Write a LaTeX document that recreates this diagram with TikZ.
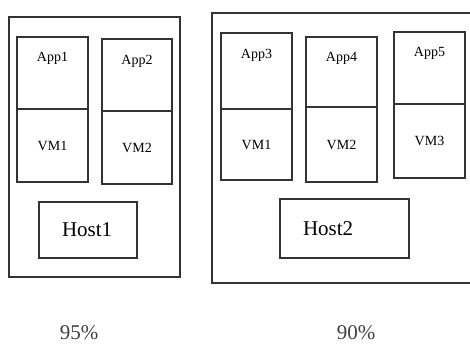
\documentclass[tikz,border=0pt]{standalone}
\usepackage{fontspec}
\setmainfont{Liberation Serif}
\usetikzlibrary{positioning}

\begin{document}
\begin{tikzpicture}[x=1pt, y=-1pt, line width=1.6pt, draw=black!80,
    colbox/.style={draw=black!80, minimum width=71pt, inner sep=0pt, outer sep=0pt, font=\fontsize{14}{16}\selectfont},
    applabel/.style={anchor=center, font=\fontsize{14}{16}\selectfont},
    hostbox/.style={draw=black!80, minimum height=57pt, inner xsep=23pt, outer sep=0pt, align=left, font=\fontsize{21}{24}\selectfont},
    pct/.style={anchor=base, text=black!75, font=\fontsize{21}{24}\selectfont}]
    \useasboundingbox (0,0) rectangle (470,344);
    \clip (0,0) rectangle (470,344);

    % host 1
    \draw[black!80] (9,17) rectangle (180,277);
    \node[colbox, anchor=north, minimum height=72pt, label={[applabel, yshift=-21pt]north:App1}] (a1) at (52.5,37) {};
    \node[colbox, minimum height=73pt, below=0pt of a1] (v1) {VM1};
    \node[colbox, anchor=north, minimum height=72pt, minimum width=70pt, label={[applabel, yshift=-22pt]north:App2}] (a2) at (137,39) {};
    \node[colbox, minimum height=73pt, minimum width=70pt, below=0pt of a2] (v2) {VM2};
    \node[hostbox, text width=52pt, minimum height=56pt] (h1) at (88,230) {Host1};

    % host 2
    \draw[black!80] (212,13) rectangle (478,283);
    \node[colbox, anchor=north, minimum height=76pt, label={[applabel, yshift=-22pt]north:App3}] (a3) at (256.5,33) {};
    \node[colbox, minimum height=71pt, below=0pt of a3] (v3) {VM1};
    \node[colbox, anchor=north, minimum height=70pt, label={[applabel, yshift=-21pt]north:App4}] (a4) at (341.5,37) {};
    \node[colbox, minimum height=75pt, below=0pt of a4] (v4) {VM2};
    \node[colbox, anchor=north, minimum height=72pt, label={[applabel, yshift=-21pt]north:App5}] (a5) at (429.5,32) {};
    \node[colbox, minimum height=74pt, below=0pt of a5] (v5) {VM3};
    \node[hostbox, text width=83pt, minimum height=59pt] (h2) at (344.5,228.5) {Host2};

    % load figures
    \node[pct] (p1) at (79,339) {95\%};
    \node[pct] (p2) at (356,339) {90\%};
\end{tikzpicture}
\end{document}
